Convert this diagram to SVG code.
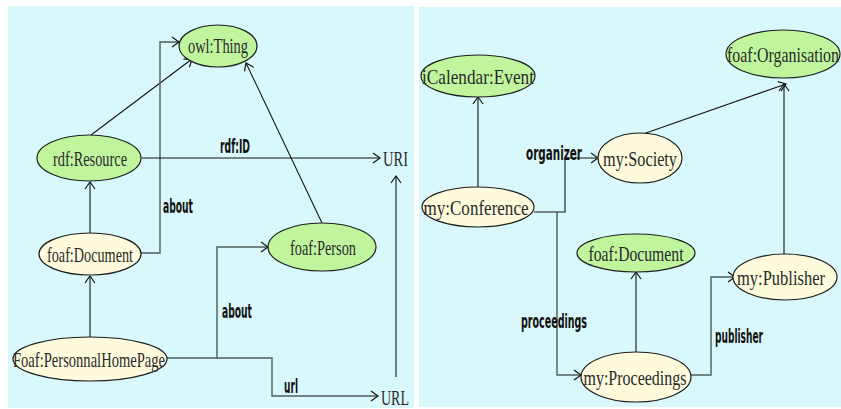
<svg xmlns="http://www.w3.org/2000/svg" width="841" height="409" viewBox="0 0 841 409">
  <style>
    .panel { fill: #d9f8fb; }
    .cls { fill: #c0f59e; stroke: #1e1e1e; stroke-width: 1.2; }
    .inst { fill: #fdfbdc; stroke: #1e1e1e; stroke-width: 1.2; }
    .nt { font-family: "Liberation Serif", serif; font-size: 22px; fill: #2a2a2a; text-anchor: middle; }
    .uri { font-family: "Liberation Serif", serif; font-size: 22px; fill: #2a2a2a; }
    .edge { fill: none; stroke: #151515; stroke-width: 1.1; marker-end: url(#arr); }
    .elbow { fill: none; stroke: #4d5c5c; stroke-width: 1.4; marker-end: url(#arr); }
    .lbl { font-family: "DejaVu Sans Condensed", "DejaVu Sans", sans-serif; font-weight: bold; font-size: 19px; fill: #111; }
  </style>
  <defs>
    <marker id="arr" markerUnits="userSpaceOnUse" markerWidth="12" markerHeight="12" viewBox="0 0 12 12" refX="9" refY="6" orient="auto">
      <path d="M2,1 L9,6 L2,11" fill="none" stroke="#151515" stroke-width="1.2"/>
    </marker>
  </defs>

  <rect width="841" height="409" fill="#ffffff"/>
  <rect class="panel" x="8" y="6" width="406" height="402"/>
  <rect class="panel" x="419" y="7" width="422" height="400"/>

  <!-- connectors -->
  <g id="connectors">
    <!-- left panel -->
    <line class="edge" x1="91" y1="135" x2="192" y2="59"/>
    <path class="elbow" d="M141,253 H160 V42 H179"/>
    <path class="edge" d="M142,158 H380"/>
    <line class="edge" x1="322" y1="223" x2="246" y2="63"/>
    <path class="edge" d="M90,233 V182"/>
    <path class="edge" d="M90,337 V276"/>
    <path class="elbow" d="M167,358 H217 V247 H268"/>
    <path class="elbow" d="M217,358 H272 V396 H378"/>
    <path class="edge" d="M396,377 V176"/>
    <!-- right panel -->
    <path class="edge" d="M478,187 V97"/>
    <line class="edge" x1="643" y1="134" x2="786" y2="84"/>
    <path class="edge" d="M534,212 H565 V158 H598"/>
    <path class="elbow" d="M557,212 V375 H581"/>
    <path class="edge" d="M636,352 V272"/>
    <path class="elbow" d="M690,375 H711 V277 H735"/>
    <path class="edge" d="M784,254 V84"/>

    <text class="lbl" x="220" y="153" textLength="30" lengthAdjust="spacingAndGlyphs">rdf:ID</text>
    <text class="lbl" x="163" y="213" textLength="30" lengthAdjust="spacingAndGlyphs">about</text>
    <text class="lbl" x="222" y="318" textLength="30" lengthAdjust="spacingAndGlyphs">about</text>
    <text class="lbl" x="284" y="393" textLength="14" lengthAdjust="spacingAndGlyphs">url</text>
    <text class="lbl" x="526" y="160" textLength="56" lengthAdjust="spacingAndGlyphs">organizer</text>
    <text class="lbl" x="521" y="328" textLength="66" lengthAdjust="spacingAndGlyphs">proceedings</text>
    <text class="lbl" x="715" y="343" textLength="48" lengthAdjust="spacingAndGlyphs">publisher</text>
  </g>

  <!-- left panel nodes -->
  <g id="owl-thing">
    <ellipse class="cls" cx="218" cy="46" rx="39" ry="21"/>
    <text class="nt" x="218" y="53" textLength="60" lengthAdjust="spacingAndGlyphs">owl:Thing</text>
  </g>
  <g id="rdf-resource">
    <ellipse class="cls" cx="89" cy="158" rx="52" ry="23"/>
    <text class="nt" x="90" y="166" textLength="74" lengthAdjust="spacingAndGlyphs">rdf:Resource</text>
  </g>
  <g id="uri">
    <text class="uri" x="383" y="166" textLength="25" lengthAdjust="spacingAndGlyphs">URI</text>
  </g>
  <g id="foaf-document-left">
    <ellipse class="inst" cx="90" cy="254" rx="51" ry="21"/>
    <text class="nt" x="90" y="262" textLength="86" lengthAdjust="spacingAndGlyphs">foaf:Document</text>
  </g>
  <g id="foaf-person">
    <ellipse class="cls" cx="322" cy="247" rx="54" ry="24"/>
    <text class="nt" x="323" y="255" textLength="66" lengthAdjust="spacingAndGlyphs">foaf:Person</text>
  </g>
  <g id="foaf-personnal-home-page">
    <ellipse class="inst" cx="90" cy="359" rx="77" ry="22"/>
    <text class="nt" x="89" y="367" textLength="152" lengthAdjust="spacingAndGlyphs">Foaf:PersonnalHomePage</text>
  </g>
  <g id="url">
    <text class="uri" x="381" y="405" textLength="28" lengthAdjust="spacingAndGlyphs">URL</text>
  </g>

  <!-- right panel nodes -->
  <g id="icalendar-event">
    <ellipse class="cls" cx="478" cy="76" rx="57" ry="21"/>
    <text class="nt" x="478" y="84" textLength="112" lengthAdjust="spacingAndGlyphs">iCalendar:Event</text>
  </g>
  <g id="foaf-organisation">
    <ellipse class="cls" cx="783" cy="54" rx="57" ry="24"/>
    <text class="nt" x="783" y="62" textLength="112" lengthAdjust="spacingAndGlyphs">foaf:Organisation</text>
  </g>
  <g id="my-society">
    <ellipse class="inst" cx="640" cy="158" rx="42" ry="25"/>
    <text class="nt" x="640" y="166" textLength="74" lengthAdjust="spacingAndGlyphs">my:Society</text>
  </g>
  <g id="my-conference">
    <ellipse class="inst" cx="478" cy="207" rx="56" ry="20"/>
    <text class="nt" x="476" y="215" textLength="105" lengthAdjust="spacingAndGlyphs">my:Conference</text>
  </g>
  <g id="foaf-document-right">
    <ellipse class="cls" cx="636" cy="253" rx="59" ry="19"/>
    <text class="nt" x="636" y="261" textLength="95" lengthAdjust="spacingAndGlyphs">foaf:Document</text>
  </g>
  <g id="my-proceedings">
    <ellipse class="inst" cx="636" cy="377" rx="55" ry="25"/>
    <text class="nt" x="635" y="385" textLength="103" lengthAdjust="spacingAndGlyphs">my:Proceedings</text>
  </g>
  <g id="my-publisher">
    <ellipse class="inst" cx="785" cy="277" rx="52" ry="23"/>
    <text class="nt" x="781" y="285" textLength="88" lengthAdjust="spacingAndGlyphs">my:Publisher</text>
  </g>
</svg>
